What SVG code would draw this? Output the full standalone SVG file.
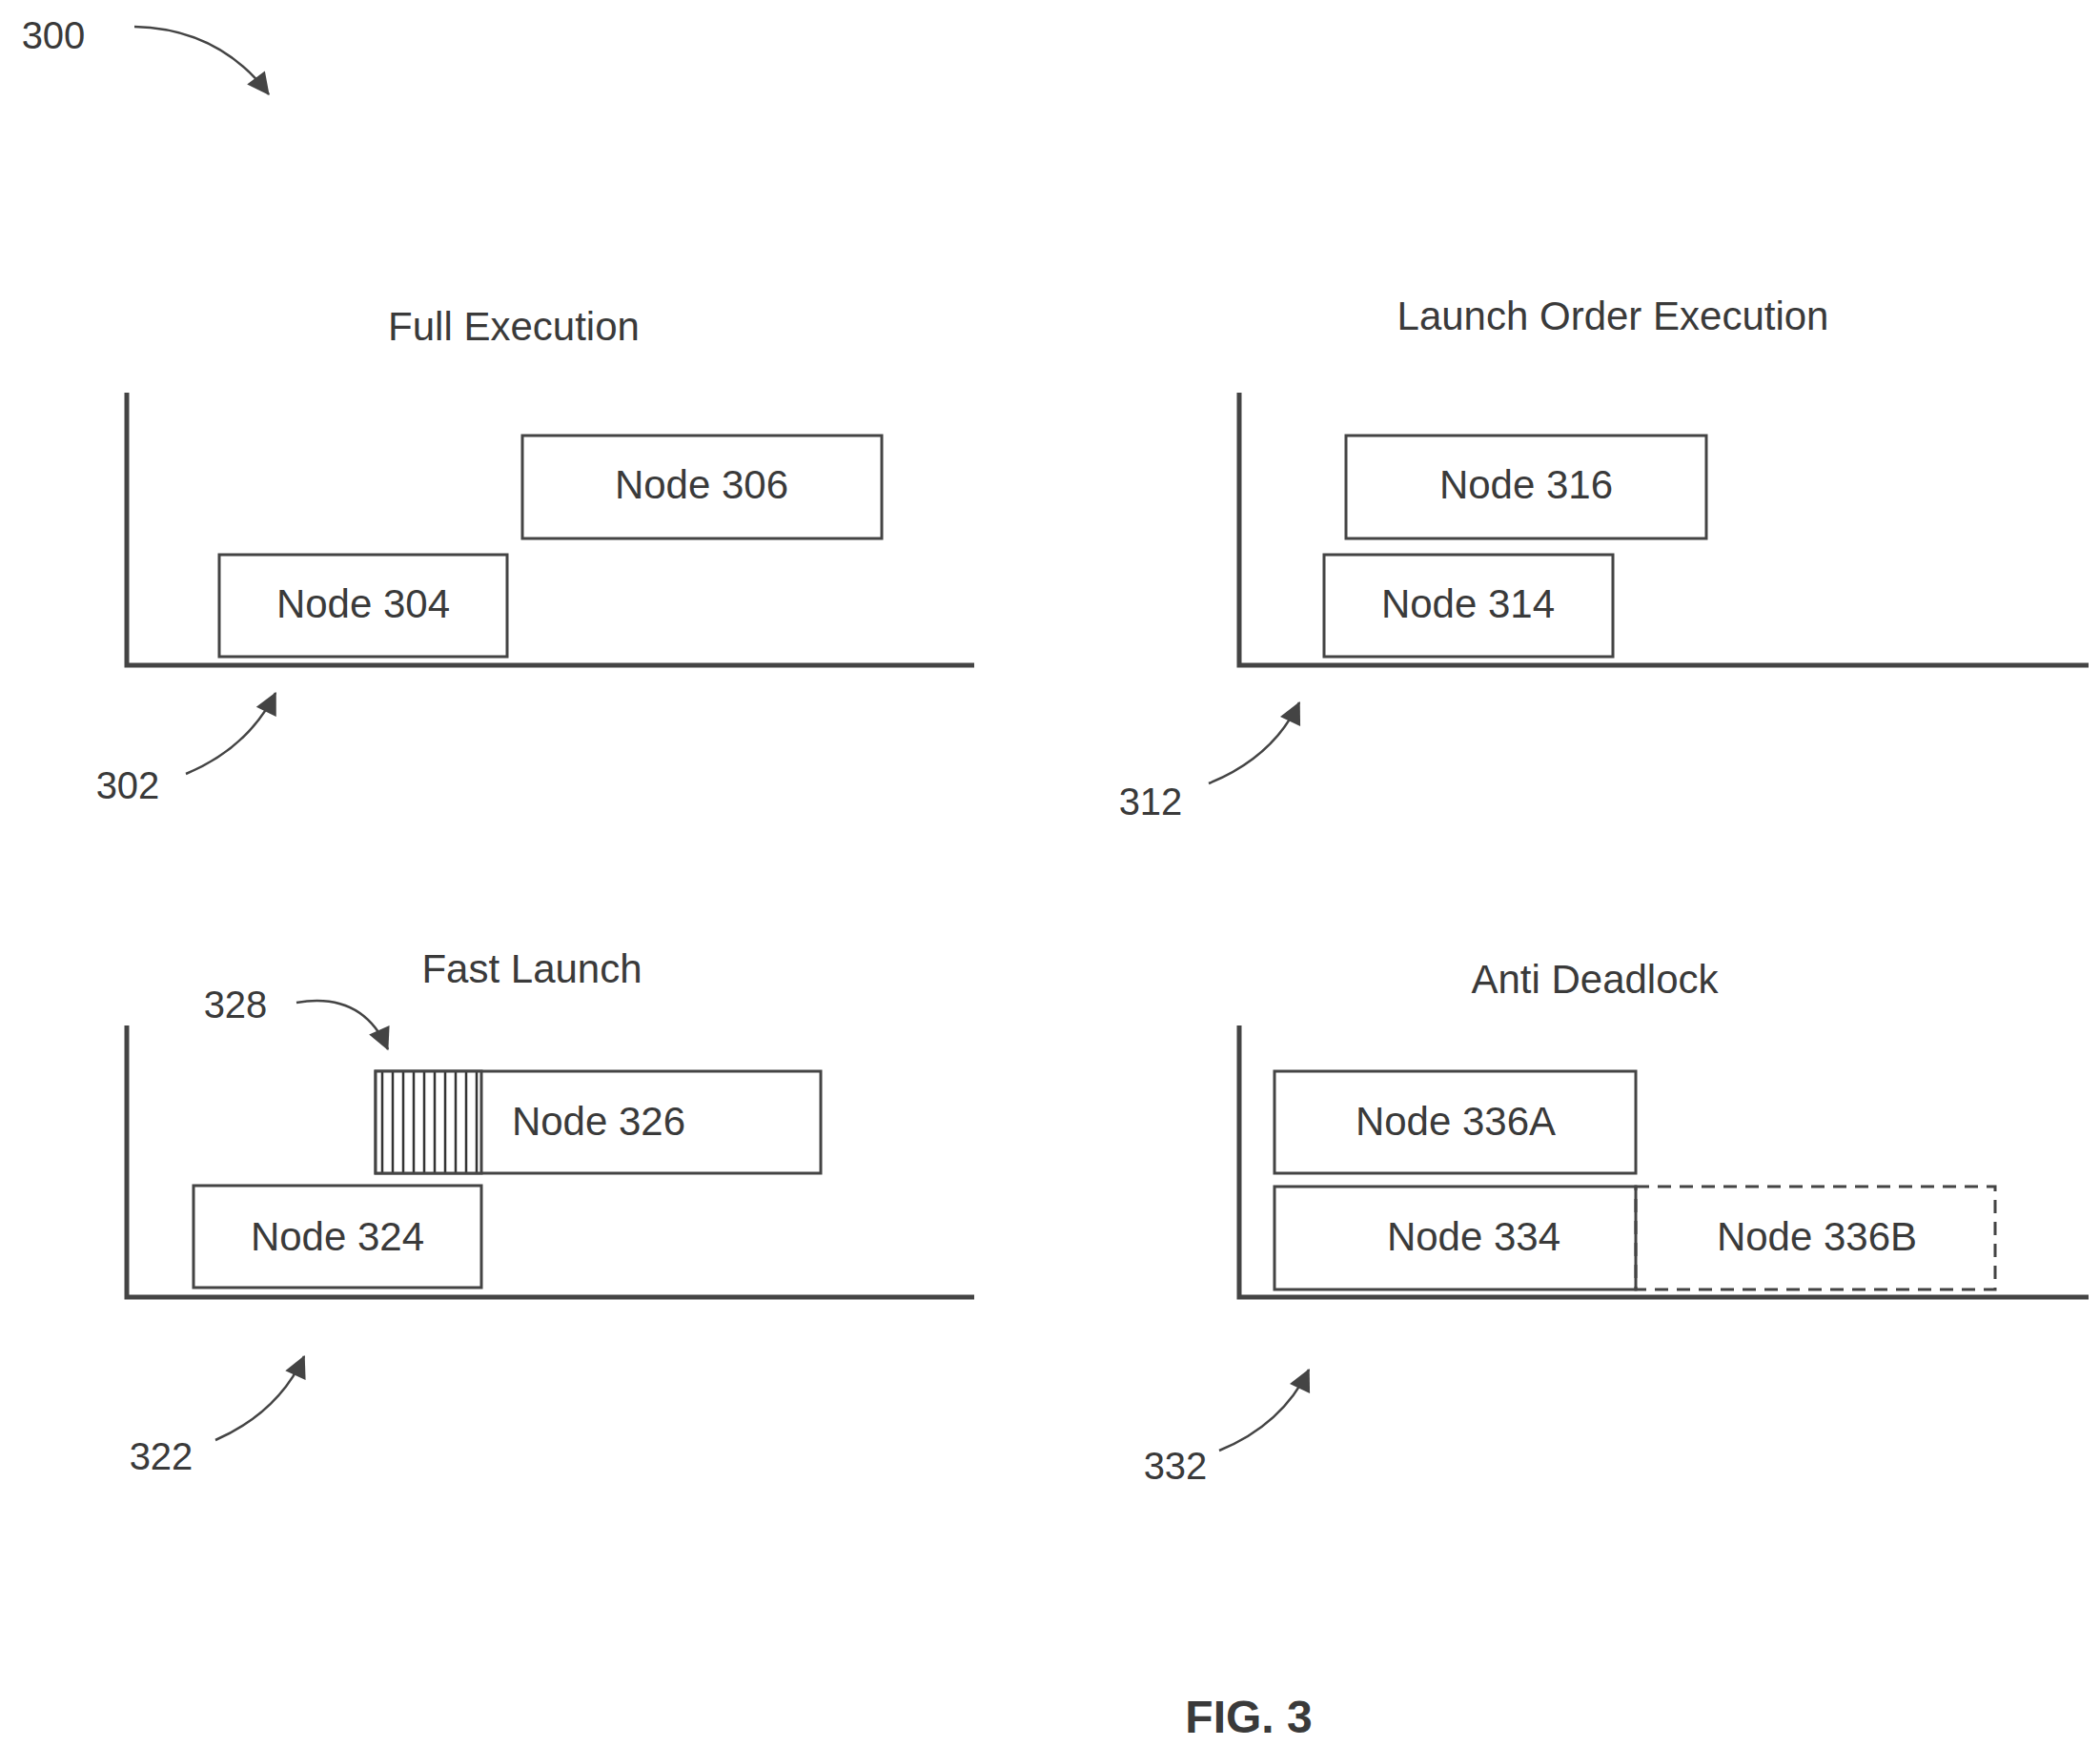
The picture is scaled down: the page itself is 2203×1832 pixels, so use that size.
<svg xmlns="http://www.w3.org/2000/svg" width="2203" height="1832" viewBox="0 0 2203 1832">
<style>
text{font-family:"Liberation Sans",Arial,sans-serif;fill:#3a3a3a}
.t{font-size:42px;text-anchor:middle}
.n{font-size:42px;text-anchor:middle}
.r{font-size:40px;text-anchor:middle}
.ax{stroke:#444;stroke-width:5;fill:none}
.box{fill:#fff;stroke:#444;stroke-width:3}
.ld{fill:none;stroke:#444;stroke-width:2.5;marker-end:url(#ah)}
</style>
<defs>
<marker id="ah" viewBox="0 0 10 10" refX="9" refY="5" markerWidth="9" markerHeight="9" markerUnits="userSpaceOnUse" orient="auto" style="overflow:visible"><path d="M0,0 L10,5 L0,10 z" fill="#444" transform="scale(2.6) translate(-6,-3)"/></marker>
<pattern id="hatch" width="11" height="20" patternUnits="userSpaceOnUse"><rect width="11" height="20" fill="#fff"/><line x1="5" y1="0" x2="5" y2="20" stroke="#333" stroke-width="2.5"/></pattern>
</defs>
<g id="labels">
<text class="r" x="56" y="51">300</text>
<text class="r" x="134" y="838">302</text>
<text class="r" x="1207" y="855">312</text>
<text class="r" x="247" y="1068">328</text>
<text class="r" x="169" y="1542">322</text>
<text class="r" x="1233" y="1552">332</text>
<text class="t" x="539" y="357">Full Execution</text>
<text class="t" x="1692" y="346">Launch Order Execution</text>
<text class="t" x="558" y="1031">Fast Launch</text>
<text class="t" x="1673" y="1042">Anti Deadlock</text>
<text x="1310" y="1818" style="font-size:48px;font-weight:bold;text-anchor:middle">FIG. 3</text>
</g>
<g id="axes">
<path class="ax" d="M133,412 V698 H1022"/>
<path class="ax" d="M1300,412 V698 H2191"/>
<path class="ax" d="M133,1076 V1361 H1022"/>
<path class="ax" d="M1300,1076 V1361 H2191"/>
</g>
<g id="node304"><rect class="box" x="230" y="582" width="302" height="107"/><text class="n" x="381" y="648">Node 304</text></g>
<g id="node306"><rect class="box" x="548" y="457" width="377" height="108"/><text class="n" x="736" y="523">Node 306</text></g>
<g id="node316"><rect class="box" x="1412" y="457" width="378" height="108"/><text class="n" x="1601" y="523">Node 316</text></g>
<g id="node314"><rect class="box" x="1389" y="582" width="303" height="107"/><text class="n" x="1540" y="648">Node 314</text></g>
<g id="node326"><rect class="box" x="394" y="1124" width="467" height="107"/><rect x="394" y="1124" width="111" height="107" fill="url(#hatch)" stroke="#444" stroke-width="3"/><text class="n" x="628" y="1191">Node 326</text></g>
<g id="node324"><rect class="box" x="203" y="1244" width="302" height="107"/><text class="n" x="354" y="1312">Node 324</text></g>
<g id="node336A"><rect class="box" x="1337" y="1124" width="379" height="107"/><text class="n" x="1527" y="1191">Node 336A</text></g>
<g id="node334"><rect class="box" x="1337" y="1245" width="379" height="108"/><text class="n" x="1546" y="1312">Node 334</text></g>
<g id="node336B"><rect x="1716" y="1245" width="377" height="108" fill="none" stroke="#444" stroke-width="3" stroke-dasharray="14,9"/><text class="n" x="1906" y="1312">Node 336B</text></g>
<g id="connectors">
<path class="ld" d="M141,28 Q230,30 282,99"/>
<path class="ld" d="M195,812 Q260,785 289,727"/>
<path class="ld" d="M1268,822 Q1335,795 1363,737"/>
<path class="ld" d="M311,1052 Q380,1040 407,1101"/>
<path class="ld" d="M226,1511 Q292,1482 319,1423"/>
<path class="ld" d="M1279,1522 Q1345,1495 1373,1437"/>
</g>
</svg>
